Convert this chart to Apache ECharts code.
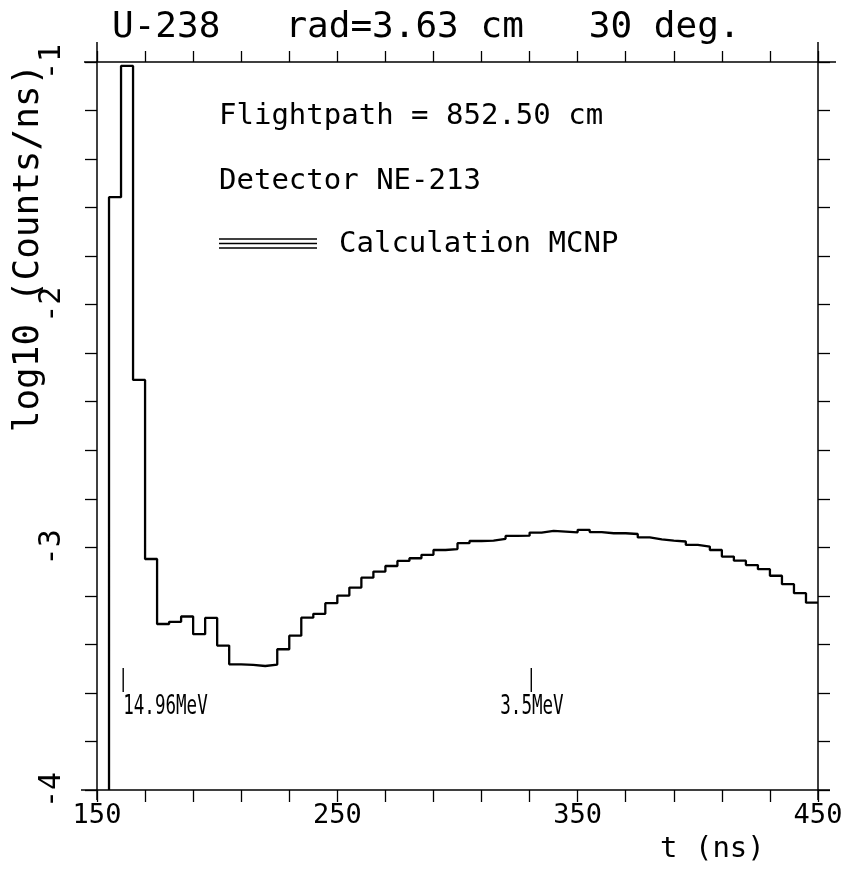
<!DOCTYPE html>
<html><head><meta charset="utf-8">
<script src="https://cdn.jsdelivr.net/npm/echarts@6/dist/echarts.min.js"></script>
<style>html,body{margin:0;padding:0;background:#fff}#c{width:851px;height:877px}</style>
</head><body><div id="c"></div>
<script>
// ---- data ----
const binEdgesStart = 155;   // first bin left edge (ns)
const binWidth = 5;          // ns
const logCounts = [
  -1.557, -1.016, -2.310, -3.048, -3.316, -3.307, -3.285, -3.358, -3.291, -3.405,
  -3.482, -3.484, -3.489, -3.483, -3.420, -3.364, -3.290, -3.274, -3.230, -3.199,
  -3.166, -3.125, -3.100, -3.077, -3.056, -3.045, -3.031, -3.011, -3.007, -2.983,
  -2.974, -2.972, -2.965, -2.953, -2.952, -2.939, -2.932, -2.935, -2.938, -2.928,
  -2.937, -2.942, -2.942, -2.945, -2.959, -2.967, -2.972, -2.976, -2.990, -2.997,
  -3.011, -3.038, -3.055, -3.073, -3.090, -3.117, -3.152, -3.189, -3.228
];
const xLabels = [150, 250, 350, 450];
const yLabels = [-1, -2, -3, -4];
const energyMarks = [ {t: 160.9, label: '14.96MeV', dx: 0}, {t: 330.7, label: '3.5MeV', dx: -31} ];
const titleText = 'U-238   rad=3.63 cm   30 deg.';
const infoLines = ['Flightpath = 852.50 cm', 'Detector NE-213'];
const legendText = 'Calculation MCNP';

// ---- build step data ----
const stepData = [[binEdgesStart, -4]];
logCounts.forEach((v, i) => stepData.push([binEdgesStart + i * binWidth, v]));
stepData.push([binEdgesStart + logCounts.length * binWidth, logCounts[logCounts.length - 1]]);

const FONT = 'DejaVu Sans Mono';
const near = (v, arr) => arr.some(a => Math.abs(a - v) < 1e-6);

const chart = echarts.init(document.getElementById('c'), null, {renderer: 'canvas'});
const axisLineStyle = {lineStyle: {color: '#000', width: 1.5}};
const tickStyle = {lineStyle: {color: '#000', width: 1.3}};

chart.setOption({
  animation: false,
  backgroundColor: '#fff',
  grid: {left: 97, right: 33, top: 62, bottom: 87, containLabel: false},
  xAxis: [
    {type: 'value', min: 150, max: 450, interval: 20, position: 'bottom',
     axisLine: Object.assign({onZero: false}, axisLineStyle),
     axisTick: Object.assign({length: 12, inside: false}, tickStyle),
     splitLine: {show: false},
     axisLabel: {margin: 12, fontFamily: FONT, fontSize: 27, color: '#000',
       formatter: v => near(v, xLabels) ? String(Math.round(v)) : ''}},
    {type: 'value', min: 150, max: 450, interval: 20, position: 'top',
     axisLine: Object.assign({onZero: false}, axisLineStyle),
     axisTick: Object.assign({length: 11, inside: false}, tickStyle),
     splitLine: {show: false}, axisLabel: {show: false}}
  ],
  yAxis: [
    {type: 'value', min: -4, max: -1, interval: 0.2, position: 'left',
     axisLine: Object.assign({onZero: false}, axisLineStyle),
     axisTick: Object.assign({length: 12, inside: false}, tickStyle),
     splitLine: {show: false},
     axisLabel: {margin: 30, rotate: 90, fontFamily: FONT, fontSize: 30, color: '#000',
       formatter: v => near(v, yLabels) ? String(Math.round(v)) : ''}},
    {type: 'value', min: -4, max: -1, interval: 0.2, position: 'right',
     axisLine: Object.assign({onZero: false}, axisLineStyle),
     axisTick: Object.assign({length: 12, inside: false}, tickStyle),
     splitLine: {show: false}, axisLabel: {show: false}}
  ],
  series: [{
    type: 'line', step: 'end', showSymbol: false, symbol: 'none',
    data: stepData, xAxisIndex: 0, yAxisIndex: 0,
    lineStyle: {color: '#000', width: 2.3}, clip: true
  }]
});

// ---- texts & annotations ----
const g = [];
g.push({type: 'text', x: 112, y: 27.5, style: {text: titleText, font: `36px "${FONT}"`, fill: '#000', align: 'left', verticalAlign: 'middle'}});
g.push({type: 'text', x: 219, y: 116.3, style: {text: infoLines[0], font: `29px "${FONT}"`, fill: '#000', align: 'left', verticalAlign: 'middle'}});
g.push({type: 'text', x: 219, y: 181.3, style: {text: infoLines[1], font: `29px "${FONT}"`, fill: '#000', align: 'left', verticalAlign: 'middle'}});
g.push({type: 'text', x: 339, y: 244.3, style: {text: legendText, font: `29px "${FONT}"`, fill: '#000', align: 'left', verticalAlign: 'middle'}});
[239, 243.5, 248].forEach(yy => g.push({type: 'line', shape: {x1: 219, y1: yy, x2: 317, y2: yy}, style: {stroke: '#000', lineWidth: 1.4}}));
// axis names
g.push({type: 'text', x: 29, y: 248, rotation: Math.PI / 2, style: {text: 'log10 (Counts/ns)', font: `36px "${FONT}"`, fill: '#000', align: 'center', verticalAlign: 'middle'}});
g.push({type: 'text', x: 660, y: 849, style: {text: 't (ns)', font: `29px "${FONT}"`, fill: '#000', align: 'left', verticalAlign: 'middle'}});
// axis line overshoot at the frame corners (plotter style)
const bl = chart.convertToPixel({gridIndex: 0}, [150, -4]);
const tr = chart.convertToPixel({gridIndex: 0}, [450, -1]);
const axStroke = {stroke: '#000', lineWidth: 1.5};
g.push({type: 'line', shape: {x1: bl[0] - 16, y1: bl[1], x2: bl[0], y2: bl[1]}, style: axStroke});
g.push({type: 'line', shape: {x1: bl[0], y1: bl[1], x2: bl[0], y2: bl[1] + 10}, style: axStroke});
g.push({type: 'line', shape: {x1: tr[0], y1: bl[1], x2: tr[0], y2: bl[1] + 10}, style: axStroke});
g.push({type: 'line', shape: {x1: tr[0], y1: bl[1], x2: tr[0] + 12, y2: bl[1]}, style: axStroke});
g.push({type: 'line', shape: {x1: bl[0] - 13, y1: tr[1], x2: bl[0], y2: tr[1]}, style: axStroke});
g.push({type: 'line', shape: {x1: bl[0], y1: tr[1] - 20, x2: bl[0], y2: tr[1]}, style: axStroke});
g.push({type: 'line', shape: {x1: tr[0], y1: tr[1], x2: tr[0] + 18, y2: tr[1]}, style: axStroke});
g.push({type: 'line', shape: {x1: tr[0], y1: tr[1] - 20, x2: tr[0], y2: tr[1]}, style: axStroke});
// energy marks
energyMarks.forEach(m => {
  const p1 = chart.convertToPixel({gridIndex: 0}, [m.t, -3.497]);
  const p2 = chart.convertToPixel({gridIndex: 0}, [m.t, -3.596]);
  g.push({type: 'line', shape: {x1: p1[0], y1: p1[1], x2: p2[0], y2: p2[1]}, style: {stroke: '#000', lineWidth: 1.4}});
  g.push({type: 'text', x: p1[0] + m.dx, y: p2[1] + 15, scaleX: 0.65, style: {text: m.label, font: `27px "${FONT}"`, fill: '#000', align: 'left', verticalAlign: 'middle'}});
});
chart.setOption({graphic: g});
</script>
</body></html>
